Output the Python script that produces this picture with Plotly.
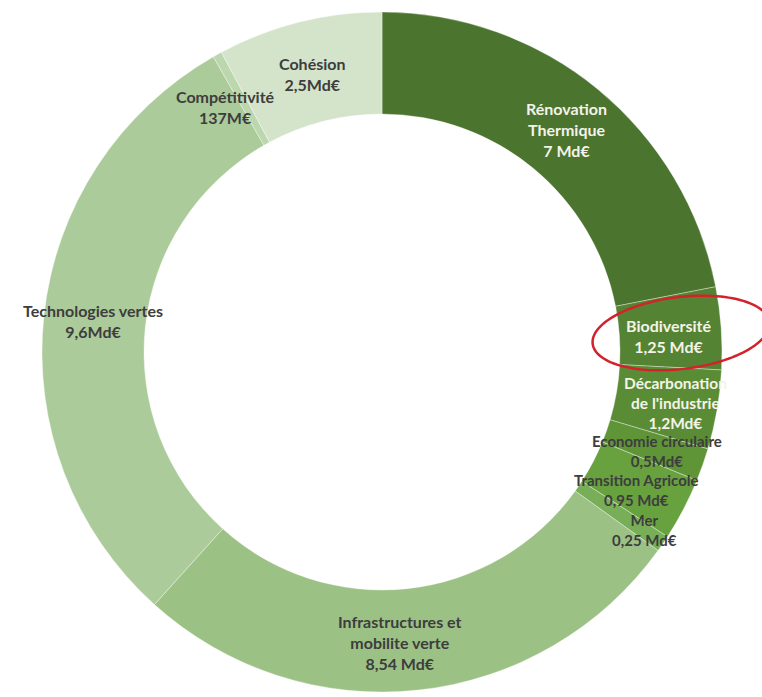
import numpy as np
import plotly.graph_objects as go

# Budget breakdown (Md€), clockwise from 12 o'clock
categories = [
    "Rénovation Thermique", "Biodiversité", "Décarbonation de l'industrie",
    "Economie circulaire", "Transition Agricole", "Mer",
    "Infrastructures et mobilite verte", "Technologies vertes",
    "Compétitivité", "Cohésion",
]
values_md = [7, 1.25, 1.2, 0.5, 0.95, 0.25, 8.54, 9.6, 0.137, 2.5]
label_lines = [
    ["Rénovation", "Thermique", "7 Md€"],
    ["Biodiversité", "1,25 Md€"],
    ["Décarbonation", "de l'industrie", "1,2Md€"],
    ["Economie circulaire", "0,5Md€"],
    ["Transition Agricole", "0,95 Md€"],
    ["Mer", "0,25 Md€"],
    ["Infrastructures et", "mobilite verte", "8,54 Md€"],
    ["Technologies vertes", "9,6Md€"],
    ["Compétitivité", "137M€"],
    ["Cohésion", "2,5Md€"],
]

colors = ["#4b742f", "#548333", "#5a8c36", "#5f9537", "#68a23f", "#79ae58",
          "#9cc185", "#abcb9a", "#bcd6ad", "#d4e4ca"]
text_colors = ["#f4f3e8", "#f4f3e8", "#f4f3e8", "#3d3d3d", "#3d3d3d", "#3d3d3d",
               "#3d3d3d", "#3d3d3d", "#3d3d3d", "#3d3d3d"]
# fine placement nudges (px) and font size for each label block
label_nudge = [(1, 1), (-2, 4), (9, 2), (2, 3), (-2, 4), (24, 15),
               (-13, 3), (-2, 0), (-17, 8), (1, 2)]
label_size = [16, 16, 15.5, 15, 15, 15, 16, 16, 16, 16]

W, H = 762, 697
CX, CY, R_OUT, HOLE = 382, 352, 340, 0.70

fig = go.Figure()

fig.add_trace(go.Pie(
    labels=categories,
    values=values_md,
    sort=False,
    direction="clockwise",
    rotation=0,
    hole=HOLE,
    marker=dict(colors=colors, line=dict(color="rgba(255,255,255,0.35)", width=1)),
    textinfo="none",
    hoverinfo="label+value",
    showlegend=False,
    domain=dict(x=[(CX - R_OUT) / W, (CX + R_OUT) / W],
                y=[1 - (CY + R_OUT) / H, 1 - (CY - R_OUT) / H]),
))

# Label anchors at the middle of each ring segment
total = sum(values_md)
r_mid = R_OUT * (1 + HOLE) / 2
cum = np.cumsum([0] + values_md)
for i, lines in enumerate(label_lines):
    ang = np.deg2rad((cum[i] + values_md[i] / 2) / total * 360)
    px = CX + r_mid * np.sin(ang) + label_nudge[i][0]
    py = CY - r_mid * np.cos(ang) + label_nudge[i][1]
    fig.add_annotation(
        x=px / W, y=1 - py / H, xref="paper", yref="paper",
        text="<br>".join(lines), showarrow=False,
        xanchor="center", yanchor="middle", align="center",
        font=dict(family="Lato", size=label_size[i], color=text_colors[i], weight="bold"),
    )

# Red highlight ellipse around the Biodiversité label
ecx, ecy, ea, eb, tilt = 681, 333, 89, 36, np.deg2rad(-7)
t = np.linspace(0, 2 * np.pi, 120)
ex = ecx + ea * np.cos(t) * np.cos(tilt) - eb * np.sin(t) * np.sin(tilt)
ey = ecy + ea * np.cos(t) * np.sin(tilt) + eb * np.sin(t) * np.cos(tilt)
path = "M " + " L ".join(f"{x / W:.5f},{1 - y / H:.5f}" for x, y in zip(ex, ey)) + " Z"
fig.add_shape(type="path", path=path, xref="paper", yref="paper",
              line=dict(color="#d3222a", width=2.5), layer="above")

fig.update_layout(
    width=W, height=H,
    margin=dict(l=0, r=0, t=0, b=0),
    paper_bgcolor="white", plot_bgcolor="white",
)

fig.write_html("out.html")
